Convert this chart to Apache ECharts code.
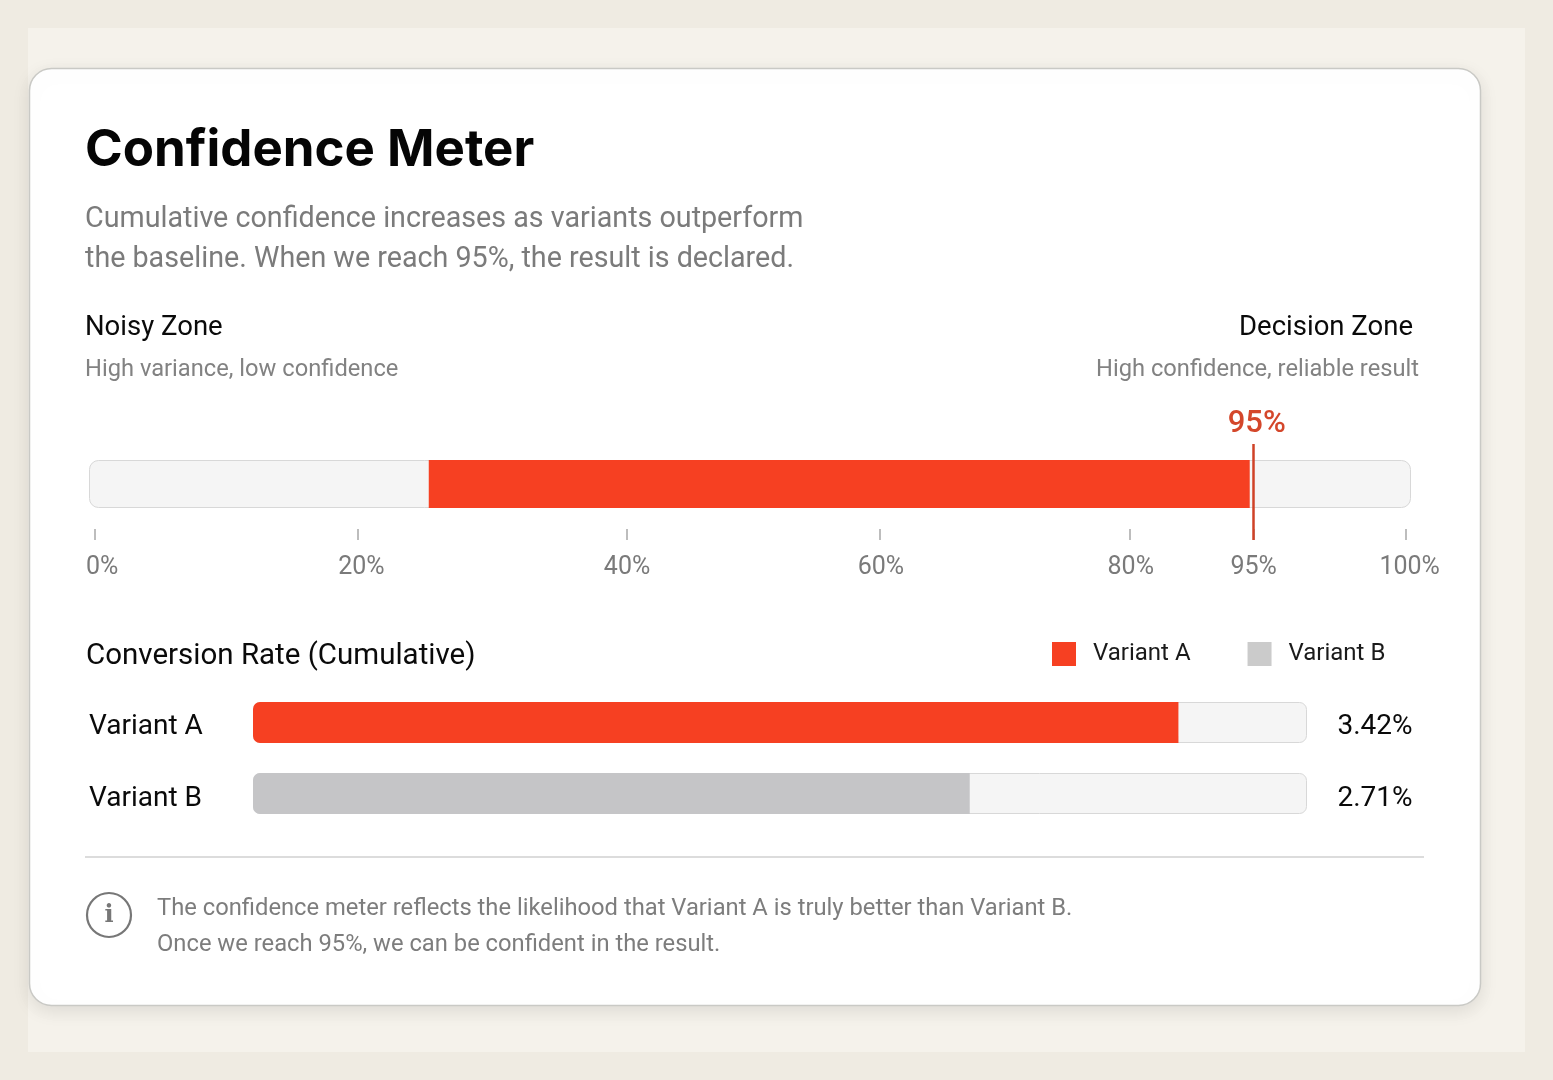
<!DOCTYPE html>
<html>
<head>
<meta charset="utf-8">
<title>Confidence Meter</title>
<script src="https://cdn.jsdelivr.net/npm/echarts@6/dist/echarts.min.js"></script>
<style>
  html, body { margin: 0; padding: 0; background: #efebe2; }
  #chart { width: 1553px; height: 1080px; }
</style>
</head>
<body>
<div id="chart"></div>
<script>
// meter: the printed ticks are not evenly spaced, so everything is read as % of the track length
const meterTickLabels = ['0%', '20%', '40%', '60%', '80%', '95%', '100%']
const meterTickAt = [0.4, 20.35, 40.7, 59.8, 78.7, 88.1, 99.6]
const meterLabelAt = [1.0, 20.6, 40.7, 59.9, 78.8, 88.1, 99.9]
const meterStart = 25.7
const meterEnd = 87.8
const thresholdAt = 88.1
const thresholdLabel = '95%'

// conversion rows: fill is % of the row track
const variants = ['Variant A', 'Variant B']
const conversionRates = ['3.42%', '2.71%']
const conversionFill = [87.8, 68]

const RED = '#f64022'
const GREY = '#c5c5c7'
const SANS = 'Roboto, "Noto Sans", sans-serif'
const HEAD = 'Inter, Roboto, sans-serif'

function label(x, y, text, font, fill, align, family) {
  return {
    type: 'text',
    x: x,
    y: y,
    z: 5,
    style: {
      text: text,
      font: font + ' ' + (family || SANS),
      fill: fill,
      align: align || 'left',
      verticalAlign: 'middle'
    }
  }
}

const chart = echarts.init(document.getElementById('chart'))

const trackStyle = {
  color: '#f5f5f5',
  borderColor: '#d8d8d8',
  borderWidth: 1
}

chart.setOption({
  animation: false,
  backgroundColor: '#efebe2',
  textStyle: { fontFamily: SANS },
  legend: {
    left: 1052,
    top: 642,
    icon: 'rect',
    itemWidth: 24,
    itemHeight: 24,
    itemGap: 57,
    padding: 0,
    data: [
      { name: variants[0] },
      { name: variants[1], itemStyle: { color: '#cbcbcb' } }
    ],
    selectedMode: false,
    textStyle: { fontSize: 24, color: '#1a1a1a', padding: [3, 0, 0, 12], fontFamily: SANS }
  },
  graphic: [
    { type: 'rect', z: -2, shape: { x: 28, y: 28, width: 1497, height: 1024 }, style: { fill: '#f5f2eb' } },
    {
      type: 'rect',
      z: -1,
      shape: { x: 29.5, y: 68.5, width: 1451, height: 937, r: 22 },
      style: { fill: '#fff', stroke: '#c9c9c5', lineWidth: 1.5, shadowBlur: 18, shadowOffsetY: 5, shadowColor: 'rgba(0,0,0,0.10)' }
    },
    label(85, 151, 'Confidence Meter', '700 51px', '#050505', 'left', HEAD),
    label(85, 220, 'Cumulative confidence increases as variants outperform', '400 28.7px', '#7b7b7b'),
    label(85, 260, 'the baseline. When we reach 95%, the result is declared.', '400 28.7px', '#7b7b7b'),
    label(85, 328, 'Noisy Zone', '400 27.5px', '#0a0a0a'),
    label(85, 370, 'High variance, low confidence', '400 23.7px', '#828282'),
    label(1413, 328, 'Decision Zone', '400 27.5px', '#0a0a0a', 'right'),
    label(1419, 370, 'High confidence, reliable result', '400 23.7px', '#828282', 'right'),
    label(86, 657, 'Conversion Rate (Cumulative)', '400 29.5px', '#0a0a0a'),
    { type: 'line', z: 2, shape: { x1: 85, y1: 857, x2: 1424, y2: 857 }, style: { stroke: '#d0d0d0', lineWidth: 1.5 } },
    { type: 'circle', z: 2, shape: { cx: 109, cy: 915, r: 22 }, style: { fill: 'none', stroke: '#777', lineWidth: 2.2 } },
    {
      type: 'text', z: 5, x: 109, y: 916,
      style: { text: 'i', font: '700 24px "DejaVu Serif", serif', fill: '#777', align: 'center', verticalAlign: 'middle' }
    },
    label(157, 909, 'The confidence meter reflects the likelihood that Variant A is truly better than Variant B.', '400 23.75px', '#7d7d7d'),
    label(157, 945, 'Once we reach 95%, we can be confident in the result.', '400 23.75px', '#7d7d7d')
  ],
  grid: [
    { left: 89, top: 460, width: 1322, height: 48 },
    { left: 89, top: 444, width: 1322, height: 96 },
    { left: 253, top: 687, width: 1054, height: 142 },
    // row labels sit a little lower than the bars in the reference
    { left: 253, top: 690.5, width: 1054, height: 144 }
  ],
  xAxis: [
    {
      gridIndex: 0,
      type: 'value',
      min: 0,
      max: 100,
      offset: 21,
      z: 3,
      splitLine: { show: false },
      axisLine: { show: false },
      axisTick: {
        show: true,
        length: 11,
        customValues: meterTickAt,
        lineStyle: { color: '#a8a8a8', width: 1.5 }
      },
      axisLabel: {
        show: true,
        customValues: meterLabelAt,
        margin: 26,
        fontSize: 25,
        color: '#7a7a7a',
        hideOverlap: false,
        showMinLabel: true,
        showMaxLabel: true,
        alignMinLabel: 'center',
        alignMaxLabel: 'center',
        formatter: v => meterTickLabels[meterLabelAt.indexOf(v)]
      }
    },
    { gridIndex: 1, type: 'value', min: 0, max: 100, show: false },
    { gridIndex: 2, type: 'value', min: 0, max: 100, show: false },
    { gridIndex: 3, type: 'value', min: 0, max: 100, show: false }
  ],
  yAxis: [
    { gridIndex: 0, type: 'category', data: ['Confidence'], show: false },
    { gridIndex: 1, type: 'value', min: 0, max: 1, show: false },
    { gridIndex: 2, type: 'category', data: variants, inverse: true, show: false },
    {
      gridIndex: 3,
      type: 'category',
      data: variants,
      inverse: true,
      z: 3,
      axisLine: { show: false },
      axisTick: { show: false },
      axisLabel: { align: 'left', margin: 164, fontSize: 28, color: '#0a0a0a' }
    },
    {
      gridIndex: 3,
      type: 'category',
      position: 'right',
      data: conversionRates,
      inverse: true,
      z: 3,
      axisLine: { show: false },
      axisTick: { show: false },
      axisLabel: { align: 'center', margin: 68, fontSize: 28, color: '#0a0a0a' }
    }
  ],
  series: [
    // meter track and fill
    {
      type: 'bar', xAxisIndex: 0, yAxisIndex: 0, barWidth: 48, barGap: '-100%', silent: true, z: 2,
      data: [100],
      itemStyle: Object.assign({ borderRadius: 9 }, trackStyle)
    },
    {
      type: 'bar', xAxisIndex: 0, yAxisIndex: 0, barWidth: 48, stack: 'meter', silent: true, z: 3,
      data: [meterStart],
      itemStyle: { color: 'transparent' }
    },
    {
      type: 'bar', xAxisIndex: 0, yAxisIndex: 0, barWidth: 48, stack: 'meter', silent: true, z: 3,
      data: [meterEnd - meterStart],
      itemStyle: { color: RED }
    },
    // 95% threshold marker
    {
      type: 'line', xAxisIndex: 1, yAxisIndex: 1, silent: true, z: 4,
      data: [],
      markLine: {
        silent: true,
        symbol: 'none',
        animation: false,
        data: [{ xAxis: thresholdAt }],
        lineStyle: { color: '#cf4227', width: 2.5, type: 'solid' },
        label: { show: true, position: 'end', distance: 4, formatter: thresholdLabel, color: '#d4472b', fontSize: 31, fontWeight: 500, offset: [3, 0] }
      }
    },
    // conversion rows
    {
      type: 'bar', xAxisIndex: 2, yAxisIndex: 2, barWidth: 41, barGap: '-100%', silent: true, z: 2,
      data: variants.map(() => 100),
      itemStyle: Object.assign({ borderRadius: 7 }, trackStyle)
    },
    {
      name: variants[0], type: 'bar', xAxisIndex: 2, yAxisIndex: 2, barWidth: 41, barGap: '-100%', silent: true, z: 3,
      data: [conversionFill[0], null],
      itemStyle: { color: RED, borderRadius: [7, 0, 0, 7] }
    },
    {
      name: variants[1], type: 'bar', xAxisIndex: 2, yAxisIndex: 2, barWidth: 41, barGap: '-100%', silent: true, z: 3,
      data: [null, conversionFill[1]],
      itemStyle: { color: GREY, borderRadius: [7, 0, 0, 7] }
    }
  ]
})
</script>
</body>
</html>
